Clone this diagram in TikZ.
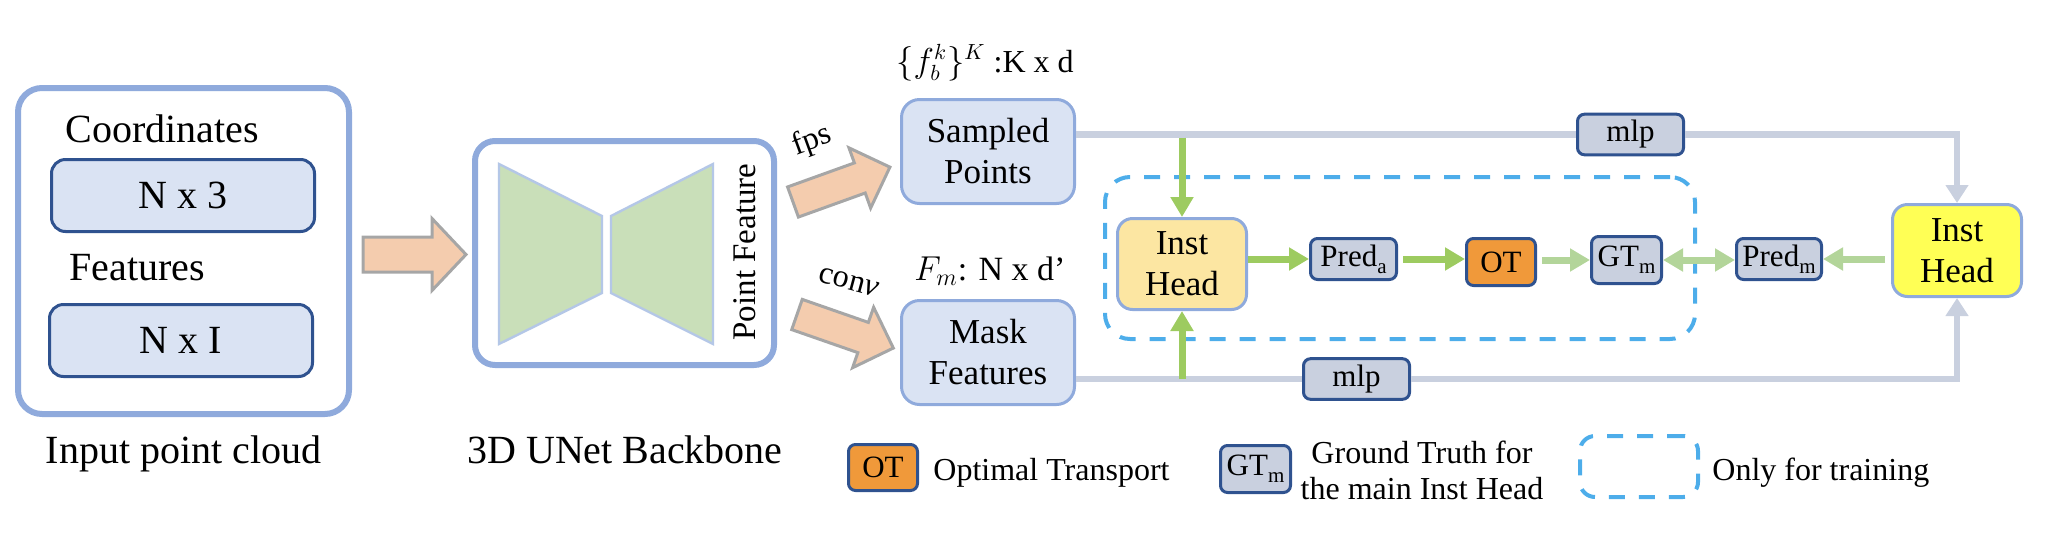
\documentclass[tikz,border=0pt]{standalone}
\usepackage{fontspec}
\setmainfont{Liberation Serif}[Ligatures=TeX]
\usetikzlibrary{arrows.meta,calc}
\definecolor{lblue}{HTML}{8FAADC}
\definecolor{lfill}{HTML}{DAE3F3}
\definecolor{dblue}{HTML}{2F528F}
\definecolor{sfill}{HTML}{C9D0DF}
\definecolor{glinec}{HTML}{C9D0DF}
\definecolor{ihfill}{HTML}{FCE6A2}
\definecolor{ihtwofill}{HTML}{FFFF55}
\definecolor{otfill}{HTML}{F0993A}
\definecolor{gdark}{HTML}{9DCB60}
\definecolor{glight}{HTML}{B3D59A}
\definecolor{dashc}{HTML}{4DADEA}
\definecolor{peach}{HTML}{F4CCAE}
\definecolor{agray}{HTML}{A6A6A6}
\definecolor{trapg}{HTML}{C9DFB9}
\definecolor{trapb}{HTML}{B4C7E7}
\newcommand\fs[2]{\fontsize{#1}{#2}\selectfont}
\newcommand\lsub[1]{\raisebox{-3.5pt}{\fontsize{10.5}{12}\selectfont #1}}
\begin{document}
\begin{tikzpicture}[x=0.5pt,y=-0.5pt,
  bigbox/.style={draw=lblue,line width=3pt,fill=white,rounded corners=12pt,inner sep=0pt},
  dimbox/.style={draw=dblue,line width=1.5pt,fill=lfill,rounded corners=7pt,inner sep=0pt,
     minimum width=131.5pt,minimum height=36pt,font=\fs{20}{24}},
  featbox/.style={draw=lblue,line width=1.5pt,fill=lfill,rounded corners=9pt,inner sep=0pt,
     minimum width=86.5pt,minimum height=52pt,align=center,font=\fs{17.5}{20.5}},
  headbox/.style={draw=lblue,line width=1.5pt,rounded corners=7.5pt,inner sep=0pt,
     minimum width=64.5pt,minimum height=45.5pt,align=center,font=\fs{17.5}{20.5}},
  smallbox/.style={draw=dblue,line width=1.5pt,fill=sfill,rounded corners=3.5pt,inner sep=0pt,
     minimum height=20.5pt,font=\fs{15.5}{18}},
  lbl/.style={inner sep=0pt,anchor=base},
  fatarrow/.style={fill=peach,draw=agray,line width=1.5pt,line join=miter},
  gray line/.style={draw=glinec,line width=3.2pt},
  grayarrow/.style={gray line,-{Triangle[length=9pt,width=11pt]}},
  garrow/.style={draw=gdark,line width=3.5pt,-{Triangle[length=10pt,width=11pt]}},
  glarrow/.style={draw=glight,line width=3.5pt,-{Triangle[length=10pt,width=11pt]}},
  dashbox/.style={draw=dashc,line width=2pt,dash pattern=on 8pt off 7pt,rounded corners=12.5pt,inner sep=0pt}
]
\useasboundingbox (0,0) rectangle (2046,542);

% ---------- input point cloud ----------
\node[bigbox,minimum width=165.5pt,minimum height=163pt] (inbox) at (183.5,251) {};
\node[lbl,font=\fs{20}{24}] (coordlbl) at (162.5,142) {Coordinates};
\node[dimbox] (nx3) at (183,195.5) {N x 3};
\node[lbl,font=\fs{20}{24}] (featlbl) at (137,280) {Features};
\node[dimbox] (nxi) at (181,340.5) {N x I};
\node[lbl,font=\fs{20}{24}] (incap) at (183.5,463) {Input point cloud};

% fat arrow input -> backbone
\begin{scope}[shift={(363,254.5)}]
  \draw[fatarrow] (0,-17.5) -- (69,-17.5) -- (69,-36) -- (103,0) -- (69,36) -- (69,17.5) -- (0,17.5) -- cycle;
\end{scope}

% ---------- backbone ----------
\node[bigbox,rounded corners=10pt,minimum width=149.5pt,minimum height=112pt] (bb) at (624.5,253) {};
\draw[fill=trapg,draw=trapb,line width=1.2pt] (499,164) -- (602,216) -- (602,293) -- (499,344) -- cycle;
\draw[fill=trapg,draw=trapb,line width=1.2pt] (611,216) -- (713,164) -- (713,344) -- (611,293) -- cycle;
\node[rotate=90,inner sep=0pt,font=\fs{16.5}{20}] (pf) at (745,252) {Point Feature};
\node[lbl,font=\fs{20}{24}] (bbcap) at (625,463) {3D UNet Backbone};

% fps / conv arrows
\begin{scope}[shift={(793,202)},rotate=19.8]
  \draw[fatarrow] (0,-16) -- (71,-16) -- (71,-32) -- (103,0) -- (71,32) -- (71,16) -- (0,16) -- cycle;
\end{scope}
\begin{scope}[shift={(797,314.5)},rotate=-19.2]
  \draw[fatarrow] (0,-16) -- (70,-16) -- (70,-32) -- (102,0) -- (70,32) -- (70,16) -- (0,16) -- cycle;
\end{scope}
\node[rotate=20,inner sep=0pt,font=\fs{16}{19}] (fps) at (812,141) {fps};
\node[rotate=-15,inner sep=0pt,font=\fs{16}{19}] (conv) at (849,282) {con\textit{v}};

% ---------- sampled points / mask features ----------
\node[featbox] (sp) at (988,151.5) {Sampled\\Points};
\node[featbox] (mf) at (988,352.5) {Mask\\Features};
\node[lbl,font=\fs{16}{19}] (splbl) at (985,72) {$\{f_b^k\}^K$ :K x d};
\node[lbl,font=\fs{17}{20}] (mflbl) at (990,280) {$F_m$: N x d'};

% ---------- training branch ----------
\node[dashbox,minimum width=295pt,minimum height=81pt] (train) at (1400,258) {};
\node[headbox,fill=ihfill] (ih1) at (1182,264) {Inst\\Head};
\node[smallbox,minimum width=43pt] (preda) at (1353.5,259) {Pred\lsub{a}};
\node[smallbox,fill=otfill,minimum width=34.5pt,minimum height=23.5pt] (ot) at (1501,262) {OT};
\node[smallbox,minimum width=35pt,minimum height=23.5pt] (gt) at (1626.5,260) {GT\lsub{m}};
\node[smallbox,minimum width=42.5pt] (predm) at (1779,259) {Pred\lsub{m}};
\node[headbox,fill=ihtwofill,minimum height=46pt] (ih2) at (1957,250.5) {Inst\\Head};
\node[smallbox,minimum width=53pt,minimum height=20.3pt] (mlpa) at (1630.5,134.5) {mlp};
\node[smallbox,minimum width=53pt,minimum height=20.3pt] (mlpb) at (1356.5,379) {mlp};

% gray lines
\draw[gray line] (sp.east |- mlpa.west) -- (mlpa.west);
\draw[grayarrow] (mlpa.east) -| (ih2.north);
\draw[gray line] (mf.east |- mlpb.west) -- (mlpb.west);
\draw[grayarrow] (mlpb.east) -| (ih2.south);

% green arrows
\draw[garrow,shorten <=1.6pt] (ih1.north |- mlpa.west) -- (ih1.north);
\draw[garrow] (ih1.south |- mlpb.west) -- (ih1.south);
\draw[garrow] (preda.west -| ih1.east) -- (preda.west);
\draw[garrow,shorten <=2.5pt] (preda.east) -- (preda.east -| ot.west);
\draw[glarrow,shorten <=2.5pt] (gt.west -| ot.east) -- (gt.west);
\draw[glarrow,{Triangle[length=10pt,width=11pt]}-{Triangle[length=10pt,width=11pt]}] (gt.east) -- (gt.east -| predm.west);
\draw[glarrow,shorten <=3pt] (predm.east -| ih2.west) -- (predm.east);

% ---------- legend ----------
\node[smallbox,fill=otfill,minimum width=34.5pt,minimum height=23pt] (lgot) at (883,467.5) {OT};
\node[lbl,anchor=base west,font=\fs{16}{19}] (lgottxt) at (933,480) {Optimal Transport};
\node[smallbox,minimum width=35pt,minimum height=23.5pt] (lggt) at (1255.5,469) {GT\lsub{m}};
\node[inner sep=0pt,align=center,font=\fs{16}{18}] (lggttxt) at (1422,470) {Ground Truth for\\the main Inst Head};
\node[dashbox,rounded corners=7.5pt,minimum width=59pt,minimum height=30.5pt] (lgdash) at (1639,466.5) {};
\node[lbl,anchor=base west,font=\fs{16}{19}] (lgdashtxt) at (1712,480) {Only for training};
\end{tikzpicture}
\end{document}
